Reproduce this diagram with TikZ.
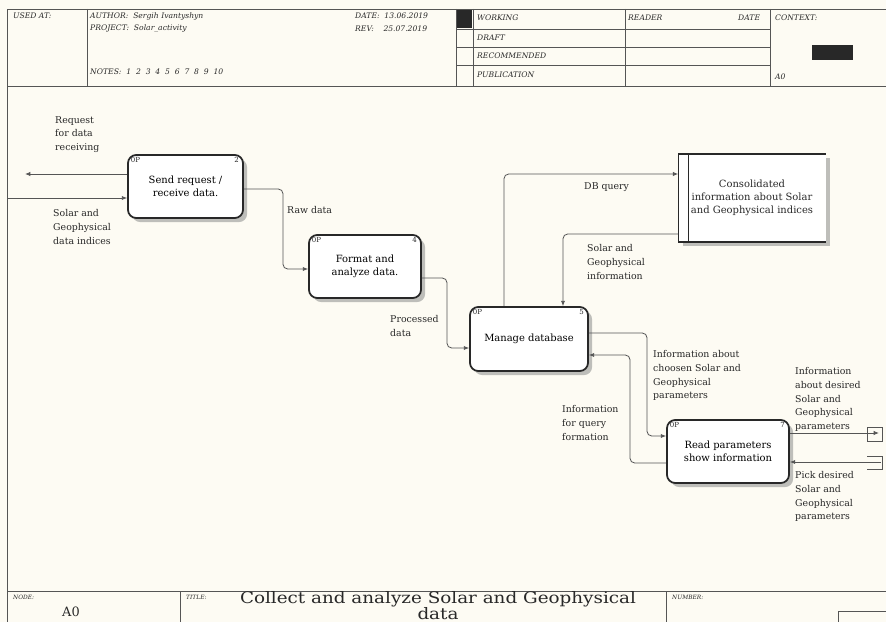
\documentclass[tikz,border=0pt]{standalone}
\usepackage{fontspec}
\setmainfont{DejaVu Serif}
\newfontfamily\titlefont[FakeStretch=1.16]{DejaVu Serif}
\usetikzlibrary{arrows.meta,shadows}
\definecolor{idefpaper}{RGB}{253,251,243}
\definecolor{idefink}{RGB}{40,40,40}
\definecolor{idefline}{RGB}{85,85,85}
\definecolor{idefshade}{RGB}{190,190,186}

\begin{document}
\begin{tikzpicture}[x=0.03cm,y=-0.03cm,
  actbox/.style={draw=idefink, line width=1.5pt, rounded corners=7pt, fill=white,
    align=center, inner sep=2pt, font=\fontsize{8.5}{11}\selectfont,
    drop shadow={shadow xshift=3.5pt, shadow yshift=-3.5pt, fill=idefshade, opacity=1}},
  tag/.style={inner sep=0pt, font=\fontsize{6}{6}\selectfont, text=idefink},
  flow/.style={draw=idefline, line width=0.7pt, rounded corners=4pt,
    -{Latex[length=4.5pt,width=3.6pt]}},
  lbl/.style={anchor=north west, inner sep=0pt, align=left,
    font=\fontsize{8}{11.8}\selectfont, text=idefink},
  hdr/.style={anchor=west, inner sep=0pt, font=\fontsize{6.5}{8}\selectfont\itshape, text=idefink},
  gridline/.style={draw=idefline, line width=0.7pt}]
\fill[idefpaper] (0,0) rectangle (886,622);
\useasboundingbox (0,0) rectangle (886,622);
% Header frame
\draw[gridline] (886,9) -- (7,9) -- (7,622);
\draw[gridline] (7,86) -- (886,86);
\foreach \xx in {87,456,473,625,770} \draw[gridline] (\xx,9) -- (\xx,86);
\foreach \yy in {29,47,65} \draw[gridline] (456,\yy) -- (770,\yy);
\fill[idefink] (457,10) rectangle (472,28);
\fill[idefink] (812,45) rectangle (853,60);
\node[hdr] (usedat) at (13,16) {USED AT:};
\node[hdr] (author) at (90,16) {AUTHOR:\ \ Sergih Ivantyshyn};
\node[hdr] (project) at (90,29) {PROJECT:\ \ Solar\_activity};
\node[hdr] (notes) at (90,72) {NOTES:\ \ 1\ \ 2\ \ 3\ \ 4\ \ 5\ \ 6\ \ 7\ \ 8\ \ 9\ \ 10};
\node[hdr] (date) at (355,16) {DATE:\ \ 13.06.2019};
\node[hdr] (rev) at (355,29) {REV:\ \ \ \ 25.07.2019};
\node[hdr] (working) at (477,18) {WORKING};
\node[hdr] (draft) at (477,38) {DRAFT};
\node[hdr] (recomm) at (477,56) {RECOMMENDED};
\node[hdr] (public) at (477,75) {PUBLICATION};
\node[hdr] (reader) at (628,18) {READER};
\node[hdr] (rdate) at (738,18) {DATE};
\node[hdr] (context) at (775,18) {CONTEXT:};
\node[hdr] (ctxnode) at (775,77) {A0};
% Footer
\draw[gridline] (7,591) -- (886,591);
\foreach \xx in {180,666} \draw[gridline] (\xx,591) -- (\xx,622);
\draw[gridline] (838,622) -- (838,611) -- (886,611);
\node[hdr, font=\fontsize{5}{5}\selectfont\itshape] (nodehd) at (13,597) {NODE:};
\node[hdr, font=\fontsize{5}{5}\selectfont\itshape] (titlehd) at (186,597) {TITLE:};
\node[hdr, font=\fontsize{5}{5}\selectfont\itshape] (numberhd) at (672,597) {NUMBER:};
\node[font=\fontsize{11}{11}\selectfont, text=idefink, inner sep=0pt] (nodeid) at (71,612) {A0};
\node[font=\titlefont\fontsize{13.5}{13.5}\selectfont, text=idefink, inner sep=0pt, align=center] (title) at (438,606)
  {Collect and analyze Solar and Geophysical\\data};
% Activity boxes
\node[actbox, minimum width=3.45cm, minimum height=1.89cm] (send) at (185.5,186.5) {Send request /\\receive data.};
\node[actbox, minimum width=3.36cm, minimum height=1.89cm] (format) at (365,266.5) {Format and\\analyze data.};
\node[actbox, minimum width=3.54cm, minimum height=1.92cm] (manage) at (529,339) {Manage database};
\node[actbox, minimum width=3.66cm, minimum height=1.89cm] (read) at (728,451.5) {Read parameters\\show information};
\foreach \bx/\nm in {send/2, format/4, manage/5, read/7} {
  \node[tag, anchor=north west] (\bx-cost) at ([shift={(3pt,-2.5pt)}]\bx.north west) {0P};
  \node[tag, anchor=north east] (\bx-num) at ([shift={(-4pt,-2.5pt)}]\bx.north east) {\nm};
}
% Data store
\node[minimum width=4.41cm, minimum height=2.64cm, fill=white, align=center,
      font=\fontsize{8.5}{11}\selectfont, text=idefink,
      drop shadow={shadow xshift=3.5pt, shadow yshift=-3.5pt, fill=idefshade, opacity=1}]
      (store) at (752,198) {Consolidated\\information about Solar\\and Geophysical indices};
\draw[idefink, line width=1.3pt] (store.north east) -- (store.north west) -- (store.south west) -- (store.south east);
\draw[idefink, line width=1.3pt] ([xshift=0.3cm]store.north west) -- ([xshift=0.3cm]store.south west);
% Connectors
\coordinate (reqend) at (25,174);
\coordinate (inpstart) at (7,198);
\coordinate (outend) at (879,433);
\coordinate (pickstart) at (881,462);
\draw[flow] (send.west |- 0,174) -- (reqend);
\draw[flow] (inpstart) -- (send.west |- 0,198);
\draw[flow] (send.east |- 0,189) -- (283,189) -- (283,269) -- (format.west |- 0,269);
\draw[flow] (format.east |- 0,278) -- (447,278) -- (447,348) -- (manage.west |- 0,348);
\draw[flow] (manage.north -| 504,0) -- (504,174) -- (store.west |- 0,174);
\draw[flow] (store.west |- 0,234) -- (563,234) -- (manage.north -| 563,0);
\draw[flow] (manage.east |- 0,333) -- (647,333) -- (647,436) -- (read.west |- 0,436);
\draw[flow] (read.west |- 0,463) -- (630,463) -- (630,355) -- (manage.east |- 0,355);
\draw[flow] (read.east |- 0,433) -- (outend);
\draw[flow] (pickstart) -- (read.east |- 0,462);
% Tunnel marks
\draw[idefline, line width=0.6pt] (867,427) rectangle (882,441);
\draw[idefline, line width=0.6pt] (867,456) -| (882,469) -- (867,469);
% Arrow labels
\node[lbl] (reqlbl) at (55,116) {Request\\for data\\receiving};
\node[lbl] (inplbl) at (53,209) {Solar and\\Geophysical\\data indices};
\node[lbl] (rawlbl) at (287,206) {Raw data};
\node[lbl] (proclbl) at (390,315) {Processed\\data};
\node[lbl] (dbqlbl) at (584,182) {DB query};
\node[lbl] (sollbl) at (587,244) {Solar and\\Geophysical\\information};
\node[lbl] (chooselbl) at (653,350) {Information about\\choosen Solar and\\Geophysical\\parameters};
\node[lbl] (querylbl) at (562,405) {Information\\for query\\formation};
\node[lbl] (outlbl) at (795,367) {Information\\about desired\\Solar and\\Geophysical\\parameters};
\node[lbl] (picklbl) at (795,471) {Pick desired\\Solar and\\Geophysical\\parameters};
\end{tikzpicture}
\end{document}
